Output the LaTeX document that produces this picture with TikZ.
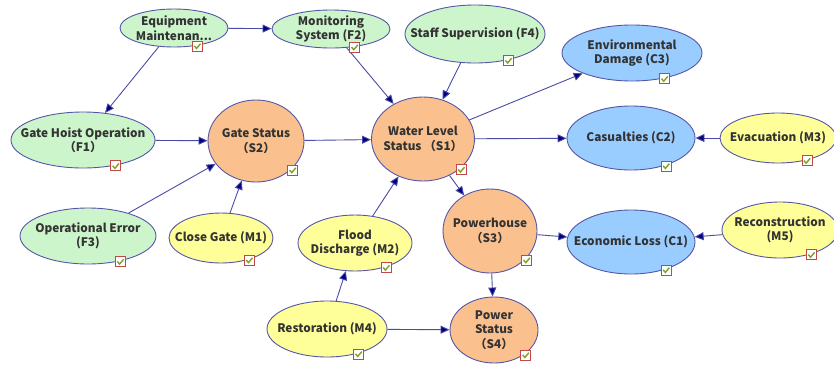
\documentclass[tikz,border=0pt]{standalone}
\usepackage{fontspec}
\setmainfont{Noto Sans CJK SC}
\usetikzlibrary{arrows.meta,shapes.geometric}

\definecolor{facfill}{HTML}{CCF5CC}
\definecolor{stafill}{HTML}{FAC18F}
\definecolor{confill}{HTML}{99CCFF}
\definecolor{mesfill}{HTML}{FFFF99}
\definecolor{rim}{HTML}{5656A8}
\definecolor{wire}{HTML}{4A4AA8}
\definecolor{tip}{HTML}{000080}
\definecolor{txt}{HTML}{333333}
\definecolor{chkred}{HTML}{C04848}
\definecolor{chkgrn}{HTML}{7FA020}

\begin{document}
\begin{tikzpicture}[x=1pt, y=-1pt,
  bn/.style={ellipse, draw=rim, line width=0.9pt, inner sep=0pt},
  fac/.style={bn, fill=facfill},
  sta/.style={bn, fill=stafill},
  con/.style={bn, fill=confill},
  mes/.style={bn, fill=mesfill},
  every label/.style={font=\fontsize{11.8}{14.5}\selectfont\bfseries, text=txt, align=center},
  arr/.style={-{Triangle[length=9pt, width=8pt, fill=tip]}, draw=wire, line width=0.9pt},
  chk/.style={rectangle, draw=chkred, fill=white, line width=0.6pt, minimum size=10pt, inner sep=0pt,
    path picture={\draw[chkgrn, line width=1.4pt] ([shift={(2pt,5pt)}]path picture bounding box.south west) -- ++(2.2pt,-2.6pt) -- ++(4pt,4.8pt);}}
]
\useasboundingbox (0,0) rectangle (834,365);

% Factors
\node[fac, minimum width=108pt, minimum height=38pt, label={center:Equipment\\Maintenan...}] (equip) at (174,28) {};
\node[fac, minimum width=118pt, minimum height=38pt, label={center:Monitoring\\System (F2)}] (mon) at (331,29) {};
\node[fac, minimum width=140pt, minimum height=58pt, label={center:Staff Supervision (F4)}] (staff) at (475,34) {};
\node[fac, minimum width=144pt, minimum height=56pt, label={center:Gate Hoist Operation\\（F1）}] (hoist) at (83,140) {};
\node[fac, minimum width=136pt, minimum height=56pt, label={center:Operational Error\\(F3)}] (operr) at (88,236) {};

% States
\node[sta, minimum width=96pt, minimum height=82pt, label={center:Gate Status\\（S2）}] (gate) at (256,141) {};
\node[sta, minimum width=103pt, minimum height=84pt, label={center:Water Level\\Status （S1）}] (water) at (423,139) {};
\node[sta, minimum width=94pt, minimum height=84pt, label={center:Powerhouse\\（S3）}] (power) at (490,231) {};
\node[sta, minimum width=88pt, minimum height=66pt, label={center:Power\\Status\\（S4）}] (pstat) at (494,330) {};

% Consequences
\node[con, minimum width=140pt, minimum height=56pt, label={center:Environmental\\Damage (C3)}] (envd) at (632,53) {};
\node[con, minimum width=128pt, minimum height=64pt, label={center:Casualties (C2)}] (casu) at (631,138) {};
\node[con, minimum width=128pt, minimum height=64pt, label={center:Economic Loss (C1)}] (econ) at (631,242) {};

% Measures
\node[mes, minimum width=116pt, minimum height=50pt, label={center:Evacuation (M3)}] (evac) at (778,138) {};
\node[mes, minimum width=104pt, minimum height=50pt, label={center:Close Gate (M1)}] (close) at (221,238) {};
\node[mes, minimum width=114pt, minimum height=56pt, label={center:Flood\\Discharge (M2)}] (flood) at (355,243) {};
\node[mes, minimum width=120pt, minimum height=56pt, label={center:Restoration (M4)}] (resto) at (327,329) {};
\node[mes, minimum width=116pt, minimum height=56pt, label={center:Reconstruction\\(M5)}] (recon) at (780,230) {};

% Links
\draw[arr] (equip) -- (mon);
\draw[arr] (equip) -- (hoist);
\draw[arr] (mon) -- (water);
\draw[arr] (staff) -- (water);
\draw[arr] (hoist) -- (gate);
\draw[arr] (operr) -- (gate);
\draw[arr] (close) -- (gate);
\draw[arr] (gate) -- (water);
\draw[arr] (flood) -- (water);
\draw[arr] (water) -- (envd);
\draw[arr] (water) -- (casu);
\draw[arr] (water) -- (power);
\draw[arr] (evac) -- (casu);
\draw[arr] (power) -- (econ);
\draw[arr] (recon) -- (econ);
\draw[arr] (power) -- (pstat);
\draw[arr] (resto) -- (flood);
\draw[arr] (resto) -- (pstat);

% Check boxes
\foreach \n in {equip,mon,staff,hoist,operr,gate,water,power,pstat,envd,casu,econ,evac,close,flood,resto,recon}
  \node[chk] (\n-chk) at ([xshift=2pt]\n.-40) {};

\end{tikzpicture}
\end{document}
